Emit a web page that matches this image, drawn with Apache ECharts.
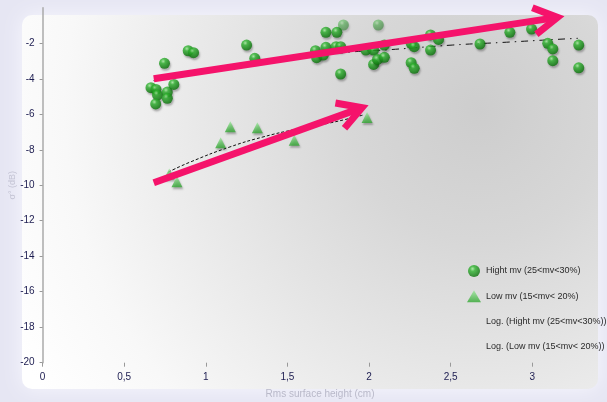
<!DOCTYPE html>
<html>
<head>
<meta charset="utf-8">
<script src="https://cdn.jsdelivr.net/npm/echarts@6/dist/echarts.min.js"></script>
<style>html,body{margin:0;padding:0;background:#e6e6f3;}#c{width:607px;height:402px;}</style>
</head>
<body>
<div id="c"></div>
<script>
// ---- data ----
const highX = [0.664,0.695,0.704,0.693,0.747,0.764,0.764,0.804,0.892,0.925,1.250,1.300,1.672,1.679,1.720,1.736,1.736,1.803,1.798,1.826,1.843,1.826,1.981,2.028,2.028,2.052,2.094,2.094,2.057,2.258,2.277,2.258,2.277,2.377,2.377,2.426,2.680,2.863,2.996,3.095,3.126,3.126,3.285,3.285];
const highY = [-4.50,-4.60,-4.92,-5.42,-3.13,-4.75,-5.10,-4.32,-2.42,-2.53,-2.10,-2.85,-2.42,-2.81,-2.66,-1.38,-2.23,-1.38,-2.19,-2.19,-0.97,-3.73,-2.38,-2.38,-3.19,-2.91,-2.79,-2.10,-0.97,-2.00,-2.19,-3.09,-3.41,-1.53,-2.38,-1.78,-2.04,-1.38,-1.20,-2.00,-2.32,-2.98,-2.10,-3.38];
const highFadedIdx = [20, 28];
const lowX = [0.776,0.823,1.091,1.150,1.316,1.542,1.988];
const lowY = [-9.37,-9.80,-7.60,-6.70,-6.76,-7.46,-6.18];
const logHighX = [0.68,1.0,1.5,1.88,2.14,2.51,2.82,3.15,3.28];
const logHighY = [-4.1,-3.5,-2.9,-2.5,-2.35,-2.1,-1.95,-1.78,-1.72];
const logLowX = [0.77,0.905,1.148,1.35,1.56,1.76,1.965];
const logLowY = [-9.26,-8.69,-7.84,-7.28,-6.83,-6.49,-6.04];
const arrowX0 = [0.681, 0.681];
const arrowY0 = [-4.0, -9.86];
const arrowX1 = [3.155, 1.957];
const arrowY1 = [-0.54, -5.63];
const seriesNames = ['Hight mv (25<mv<30%)','Low mv (15<mv< 20%)','Log. (Hight mv (25<mv<30%))','Log. (Low mv (15<mv< 20%))'];
const xTicks = [0, 0.5, 1, 1.5, 2, 2.5, 3];
const yTicks = [-20,-18,-16,-14,-12,-10,-8,-6,-4,-2];

const zip = (a, b) => a.map((v, i) => [v, b[i]]);
const chart = echarts.init(document.getElementById('c'));
const font = 'Liberation Sans, Arial, sans-serif';
const sphere = new echarts.graphic.RadialGradient(0.38, 0.32, 0.7, [
  {offset: 0, color: '#a8eea0'}, {offset: 0.3, color: '#30b530'}, {offset: 1, color: '#087008'}]);
const tri = new echarts.graphic.LinearGradient(0, 0, 0, 1, [
  {offset: 0, color: '#9be69b'}, {offset: 1, color: '#2fa52f'}]);

const highData = zip(highX, highY).map((p, i) => highFadedIdx.includes(i)
  ? {value: p, itemStyle: {opacity: 0.45}} : {value: p});

chart.setOption({
  backgroundColor: '#e6e6f3',
  animation: false,
  graphic: [{
    type: 'rect', z: -10, silent: true,
    shape: {x: 22, y: 15, width: 576, height: 374, r: 10},
    style: {
      fill: new echarts.graphic.RadialGradient(480, 110, 520, [
        {offset: 0, color: '#cdcdcd'}, {offset: 0.25, color: '#d7d7d7'},
        {offset: 0.5, color: '#e6e6e6'}, {offset: 0.8, color: '#f8f8f8'}, {offset: 1, color: '#ffffff'}], true),
      shadowBlur: 20, shadowColor: 'rgba(248,248,255,0.95)'
    }
  }],
  grid: {left: 42.6, top: 7.8, bottom: 39.3, right: 9.5, outerBoundsMode: 'none', containLabel: false},
  xAxis: {
    type: 'value', min: 0, max: 3.4, interval: 0.5, position: 'bottom',
    name: 'Rms surface height (cm)', nameLocation: 'middle', nameGap: 27,
    nameTextStyle: {color: '#b9b9c9', fontSize: 10, fontFamily: font},
    axisLine: {show: false, onZero: false},
    axisTick: {show: true, length: 4, lineStyle: {color: '#999'}},
    axisLabel: {
      color: '#1c1c50', fontSize: 10, fontFamily: font, margin: 10, showMaxLabel: false,
      formatter: v => xTicks.includes(v) ? String(v).replace('.', ',') : ''
    },
    splitLine: {show: false}
  },
  yAxis: {
    type: 'value', min: -20, max: 0, interval: 2,
    name: 'σ° (dB)', nameLocation: 'middle', nameGap: 26, nameMoveOverlap: false,
    nameTextStyle: {color: '#c4c4d4', fontSize: 9, fontFamily: font},
    axisLine: {show: true, onZero: false, lineStyle: {color: '#aaaaaa', width: 1.5}},
    axisTick: {show: true, length: 3, lineStyle: {color: '#999'}},
    axisLabel: {
      color: '#1c1c50', fontSize: 10, fontFamily: font, margin: 8, showMaxLabel: false,
      formatter: v => yTicks.includes(v) ? String(v) : ''
    },
    splitLine: {show: false}
  },
  legend: {
    orient: 'vertical', left: 462, top: 260, itemWidth: 14, itemHeight: 12, itemGap: 13.3,
    textStyle: {color: '#2a2a2a', fontSize: 9, fontFamily: font},
    data: [
      {name: seriesNames[0], icon: 'circle'},
      {name: seriesNames[1], icon: 'triangle'},
      {name: seriesNames[2], icon: 'rect', itemStyle: {opacity: 0}},
      {name: seriesNames[3], icon: 'rect', itemStyle: {opacity: 0}}
    ]
  },
  series: [
    {
      name: seriesNames[0], type: 'scatter', symbol: 'circle', symbolSize: 11, z: 5,
      itemStyle: {color: sphere, shadowBlur: 2, shadowColor: 'rgba(0,0,0,0.35)', shadowOffsetX: 1, shadowOffsetY: 2},
      data: highData
    },
    {
      name: seriesNames[1], type: 'scatter', symbol: 'triangle', symbolSize: 11, z: 5,
      itemStyle: {color: tri, shadowBlur: 2, shadowColor: 'rgba(0,0,0,0.35)', shadowOffsetX: 1, shadowOffsetY: 2},
      data: zip(lowX, lowY)
    },
    {
      name: seriesNames[2], type: 'line', smooth: true, symbol: 'none', z: 4,
      lineStyle: {color: '#111', width: 1, type: [7, 5, 1.5, 5]},
      itemStyle: {color: '#111'},
      data: zip(logHighX, logHighY)
    },
    {
      name: seriesNames[3], type: 'line', smooth: true, symbol: 'none', z: 4,
      lineStyle: {color: '#111', width: 1, type: [3, 2]},
      itemStyle: {color: '#111'},
      data: zip(logLowX, logLowY)
    },
    {
      name: 'arrows', type: 'custom', z: 10, clip: false, silent: true,
      encode: {x: [0, 2], y: [1, 3]},
      data: arrowX0.map((v, i) => [v, arrowY0[i], arrowX1[i], arrowY1[i]]),
      renderItem: function (params, api) {
        const p0 = api.coord([api.value(0), api.value(1)]);
        const p1 = api.coord([api.value(2), api.value(3)]);
        const ang = Math.atan2(p1[1] - p0[1], p1[0] - p0[0]);
        const L = 27, a = 0.52, col = '#f5136b', w = 7;
        const h1 = [p1[0] - L * Math.cos(ang - a), p1[1] - L * Math.sin(ang - a)];
        const h2 = [p1[0] - L * Math.cos(ang + a), p1[1] - L * Math.sin(ang + a)];
        const pe = [p1[0] - 5 * Math.cos(ang), p1[1] - 5 * Math.sin(ang)];
        return {type: 'group', children: [
          {type: 'line', shape: {x1: p0[0], y1: p0[1], x2: pe[0], y2: pe[1]}, style: {stroke: col, lineWidth: w}},
          {type: 'polyline', shape: {points: [h1, p1, h2]}, style: {stroke: col, lineWidth: w, fill: null, lineJoin: 'miter', lineCap: 'butt'}}
        ]};
      }
    }
  ]
});
</script>
</body>
</html>
